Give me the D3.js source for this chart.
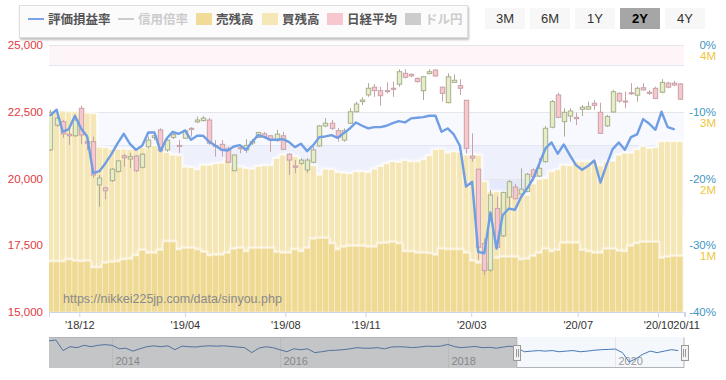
<!DOCTYPE html>
<html><head><meta charset="utf-8">
<script src="https://cdn.jsdelivr.net/npm/d3@7/dist/d3.min.js"></script>
<style>
body{margin:0;background:#fff;font-family:"Liberation Sans",Arial,sans-serif;}
svg{display:block}
</style></head><body>
<svg id="c" width="726" height="380"></svg>
<script>
// ---------- DATA ----------
const weeks = [
"2018-10-29","2018-11-05","2018-11-12","2018-11-19","2018-11-26","2018-12-03","2018-12-10","2018-12-17","2018-12-24","2018-12-31",
"2019-01-07","2019-01-14","2019-01-21","2019-01-28","2019-02-04","2019-02-11","2019-02-18","2019-02-25","2019-03-04","2019-03-11",
"2019-03-18","2019-03-25","2019-04-01","2019-04-08","2019-04-15","2019-04-22","2019-05-06","2019-05-13","2019-05-20","2019-05-27",
"2019-06-03","2019-06-10","2019-06-17","2019-06-24","2019-07-01","2019-07-08","2019-07-15","2019-07-22","2019-07-29","2019-08-05",
"2019-08-12","2019-08-19","2019-08-26","2019-09-02","2019-09-09","2019-09-16","2019-09-23","2019-09-30","2019-10-07","2019-10-14",
"2019-10-21","2019-10-28","2019-11-04","2019-11-11","2019-11-18","2019-11-25","2019-12-02","2019-12-09","2019-12-16","2019-12-23",
"2019-12-30","2020-01-06","2020-01-13","2020-01-20","2020-01-27","2020-02-03","2020-02-10","2020-02-17","2020-02-24","2020-03-02",
"2020-03-09","2020-03-16","2020-03-23","2020-03-30","2020-04-06","2020-04-13","2020-04-20","2020-04-27","2020-05-04","2020-05-11",
"2020-05-18","2020-05-25","2020-06-01","2020-06-08","2020-06-15","2020-06-22","2020-06-29","2020-07-06","2020-07-13","2020-07-20",
"2020-07-27","2020-08-03","2020-08-10","2020-08-17","2020-08-24","2020-08-31","2020-09-07","2020-09-14","2020-09-21","2020-09-28",
"2020-10-05","2020-10-12","2020-10-19","2020-10-26"];

const nikkeiOpen = [21070,22000,22130,21660,21600,22630,21380,21380,19760,19650,
19920,20260,20850,20730,20840,20420,21190,21530,21820,21070,
21540,21240,21510,21880,22120,22170,22190,21240,21280,21130,
20290,21150,21070,21330,21540,21670,21600,21420,21600,20910,
20470,20570,20320,20610,21220,21970,22070,21790,21440,22070,
22500,22880,23130,23420,23290,23290,23380,23530,23940,23900,
23750,23290,23930,24060,23420,22840,23600,23480,22930,20840,
20350,17570,16570,18880,17850,19300,19680,19420,19510,20320,
20090,20630,21920,23130,22130,22340,22290,22590,22600,22820,
22480,21970,22490,23190,22900,23210,23120,23400,23230,23380,
23230,23570,23570,23540];
const nikkeiHigh = [22570,22600,22190,21850,22270,22730,21570,21570,20130,19690,
20390,20690,20920,20960,20880,20940,21570,21670,21880,21510,
21780,21440,21840,21920,22320,22340,22270,21440,21440,21190,
20910,21190,21480,21480,21750,21740,21630,21820,21750,20940,
20690,20760,20770,21190,22000,22260,22190,21890,21880,22630,
22880,23040,23570,23540,23440,23600,23630,24090,24090,23940,
23790,23840,24090,24090,23440,23940,23900,23720,22940,21690,
20350,17760,19570,19320,19500,19940,19800,20380,20210,20380,
20760,21970,22940,23210,22630,22630,22470,22750,22880,22940,
22840,22380,23320,23230,23250,23570,23440,23570,23320,23440,
23720,23630,23660,23570];
const nikkeiLow = [21030,21930,21520,21260,21560,21290,21070,20020,18940,19220,
19870,20220,20440,20390,20240,20380,21130,21440,21000,21000,
21480,20960,21470,21570,22070,22130,21260,20820,20820,20570,
20290,20940,20960,21260,21510,21520,21000,21380,21070,20130,
20200,20510,20210,20570,21190,21920,21820,21380,21380,22040,
22470,22750,23060,23060,22730,23190,23060,23440,23750,23800,
23590,22940,23900,23810,22880,22820,23590,23130,20940,20630,
16950,16390,16510,17390,17810,18940,19220,19380,19500,20020,
20050,20590,21880,22260,21570,22130,22000,22340,22570,22570,
21670,21930,22470,22840,22630,23130,22880,23290,23130,22970,
23190,23380,23470,22940];
const nikkeiClose = [22480,22260,21670,21600,22190,21630,21320,20130,20020,19540,
20350,20660,20780,20820,20290,20910,21440,21600,21040,21440,
21640,21210,21790,21840,22190,22260,21320,21210,21070,20610,
20880,21120,21240,21390,21720,21570,21440,21660,21090,20690,
20420,20690,20690,21070,21970,22070,21880,21540,21790,22500,
22790,22940,23380,23290,23100,23270,23340,24000,23790,23840,
23630,23810,24000,23840,23190,23810,23680,23380,21130,20760,
17420,16550,19380,17420,19480,19880,19240,19600,20160,20070,
20380,21880,22880,22290,22480,22530,22240,22670,22690,22740,
21690,22320,23250,22900,22870,23170,23380,23320,23190,23000,
23600,23420,23500,22970];

// 評価損益率 (%)
const evalRate = [-10.5,-9.7,-13.0,-12.6,-10.6,-12.5,-13.7,-19.2,-18.9,-17.7,
-16.3,-14.7,-13.3,-14.8,-15.7,-15.1,-13.1,-13.1,-15.9,-14.0,
-13.0,-13.3,-12.8,-14.2,-13.6,-13.6,-14.5,-15.1,-15.7,-15.8,
-15.2,-15.0,-15.7,-14.5,-13.5,-13.8,-14.2,-14.2,-14.1,-14.5,
-15.3,-14.8,-15.9,-15.0,-13.8,-13.7,-13.5,-13.9,-13.2,-12.5,
-11.6,-12.1,-12.5,-12.3,-12.3,-12.1,-11.7,-11.4,-11.6,-11.0,
-10.9,-10.8,-10.6,-10.6,-13.0,-12.5,-13.4,-15.1,-21.2,-20.5,
-31.0,-31.2,-25.1,-30.5,-25.5,-24.5,-24.7,-22.8,-21.5,-20.0,
-17.8,-15.5,-14.6,-16.3,-14.9,-16.5,-18.0,-18.7,-18.1,-17.3,
-20.6,-18.0,-15.6,-14.6,-15.7,-13.8,-13.4,-11.1,-11.8,-12.7,
-10.0,-12.3,-12.6,null];

// 売残高 (M)
const sellBalance = [0.75,0.75,0.75,0.78,0.76,0.75,0.76,0.66,0.66,0.73,
0.74,0.75,0.78,0.79,0.84,0.92,0.88,0.88,0.92,1.05,
1.05,0.93,0.95,0.95,0.93,0.89,0.84,0.85,0.85,0.88,
0.94,0.95,0.90,0.95,0.95,0.95,0.95,0.89,0.88,0.88,
0.93,0.90,0.95,1.09,1.10,1.10,1.02,0.93,0.97,0.98,
0.98,0.98,0.97,0.97,1.02,1.03,1.04,1.02,0.90,0.90,
0.88,0.88,0.87,0.85,0.94,0.93,0.93,0.93,0.88,0.76,
0.73,0.73,0.75,0.80,0.82,0.82,0.82,0.78,0.79,0.83,
0.88,0.94,0.90,0.92,1.03,1.03,1.03,0.92,0.90,0.88,
0.88,0.94,0.94,0.91,0.90,0.98,1.02,1.04,1.04,1.04,
0.80,0.82,0.83,0.83];
// 買残高 (M)
const buyBalance = [3.00,3.01,3.01,3.00,3.00,2.98,2.98,2.97,2.47,2.46,
2.44,2.44,2.44,2.43,2.46,2.46,2.46,2.49,2.44,2.39,
2.35,2.34,2.17,2.16,2.13,2.20,2.20,2.22,2.23,2.28,
2.18,2.17,2.15,2.14,2.18,2.19,2.19,2.30,2.35,2.36,
2.33,2.24,2.22,2.19,2.05,2.14,2.13,2.09,2.08,2.07,
2.10,2.10,2.09,2.14,2.18,2.22,2.25,2.24,2.27,2.25,
2.25,2.28,2.34,2.43,2.44,2.38,2.40,2.39,2.35,2.35,
2.35,1.95,1.80,1.80,1.79,1.79,1.75,1.80,1.75,1.92,
1.99,2.00,2.10,2.13,2.20,2.19,2.25,2.25,2.25,2.25,
2.19,2.25,2.26,2.35,2.38,2.38,2.43,2.48,2.45,2.46,
2.55,2.55,2.55,2.55];

// x-axis ticks
const tickDates = ["2018-12-01","2019-04-01","2019-08-01","2019-11-01","2020-03-01","2020-07-01","2020-10-01","2020-11-01"];
const tickLabels = ["'18/12","'19/04","'19/08","'19/11","'20/03","'20/07","'20/10","'20/11"];
const priceTicks = [15000,17500,20000,22500,25000];
const pctTicks = [0,-10,-20,-30,-40];
const volTicks = [4,3,2,1];
// 評価損益率 zones (%)
const zoneRanges = [[-3,0],[-15,-10],[-20,-15],[-25,-20]];

// navigator (monthly 評価損益率 history)
const navMonths = ["2013-04","2013-05","2013-06","2013-07","2013-08","2013-09","2013-10","2013-11","2013-12",
"2014-01","2014-02","2014-03","2014-04","2014-05","2014-06","2014-07","2014-08","2014-09","2014-10","2014-11","2014-12",
"2015-01","2015-02","2015-03","2015-04","2015-05","2015-06","2015-07","2015-08","2015-09","2015-10","2015-11","2015-12",
"2016-01","2016-02","2016-03","2016-04","2016-05","2016-06","2016-07","2016-08","2016-09","2016-10","2016-11","2016-12",
"2017-01","2017-02","2017-03","2017-04","2017-05","2017-06","2017-07","2017-08","2017-09","2017-10","2017-11","2017-12",
"2018-01","2018-02","2018-03","2018-04","2018-05","2018-06","2018-07","2018-08","2018-09","2018-10","2018-11","2018-12",
"2019-01","2019-02","2019-03","2019-04","2019-05","2019-06","2019-07","2019-08","2019-09","2019-10","2019-11","2019-12",
"2020-01","2020-02","2020-03","2020-04","2020-05","2020-06","2020-07","2020-08","2020-09","2020-10"];
const navRate = [2.1,3.5,-13.5,-7.3,-8.8,-5.0,-7.3,-5.0,-4.0,
-5.0,-10.7,-9.7,-14.4,-10.7,-7.3,-5.9,-7.3,-5.9,-12.1,-6.4,-7.3,
-7.8,-6.4,-5.9,-6.4,-5.9,-6.9,-7.8,-8.8,-16.8,-9.7,-7.3,-8.8,
-12.1,-15.4,-10.7,-12.1,-10.7,-16.8,-15.4,-13.5,-13.0,-12.1,-10.7,-8.8,
-9.7,-9.7,-8.8,-10.7,-7.8,-7.3,-7.8,-8.8,-7.8,-6.4,-6.9,-6.4,
-3.6,-7.3,-8.8,-7.8,-6.9,-8.8,-8.3,-9.7,-7.8,-6.4,-9.7,-15.4,
-14.4,-13.5,-14.4,-13.5,-15.4,-14.4,-13.5,-15.4,-14.4,-13.0,-12.1,-11.6,
-11.1,-16.8,-31.9,-26.3,-19.2,-14.4,-16.8,-14.4,-12.1,-13.5];
const navYears = ["2014","2016","2018","2020"];

const legendItems = [
  {name:"評価損益率", type:"line", color:"#7aa3e5", on:true},
  {name:"信用倍率", type:"line", color:"#cccccc", on:false},
  {name:"売残高", type:"box", color:"#f0dc98", on:true},
  {name:"買残高", type:"box", color:"#f6e7b6", on:true},
  {name:"日経平均", type:"box", color:"#f7c6cf", on:true},
  {name:"ドル円", type:"box", color:"#cccccc", on:false}
];
const rangeButtons = ["3M","6M","1Y","2Y","4Y"];
const selectedButton = "2Y";

// ---------- DRAW ----------
const svg = d3.select("#c");
const P = {l:49, r:684, t:45, b:312};
const x = d3.scaleLinear().domain([-0.245, 103.68]).range([P.l, P.r]);
const yP = d3.scaleLinear().domain([15000,25000]).range([P.b,P.t]);
const yR = d3.scaleLinear().domain([-40,0]).range([P.b,P.t]);
const yM = d3.scaleLinear().domain([0,4]).range([P.b,P.t]);
const parse = d3.timeParse("%Y-%m-%d");
const wDates = weeks.map(parse);

const defs = svg.append("defs");
defs.append("clipPath").attr("id","clip").append("rect")
  .attr("x",P.l).attr("y",P.t).attr("width",P.r-P.l).attr("height",P.b-P.t);
const glow = defs.append("filter").attr("id","glow").attr("x","-5%").attr("y","-10%").attr("width","110%").attr("height","120%");
glow.append("feMorphology").attr("operator","dilate").attr("radius",1).attr("in","SourceAlpha").attr("result","d");
glow.append("feGaussianBlur").attr("in","d").attr("stdDeviation",1.2).attr("result","b");
glow.append("feFlood").attr("flood-color","#ffffff").attr("flood-opacity",1);
glow.append("feComposite").attr("in2","b").attr("operator","in").attr("result","g");
const gm = glow.append("feMerge"); gm.append("feMergeNode").attr("in","g"); gm.append("feMergeNode").attr("in","SourceGraphic");
const sh = defs.append("filter").attr("id","shadow").attr("x","-5%").attr("y","-20%").attr("width","110%").attr("height","150%");
sh.append("feDropShadow").attr("dx",1).attr("dy",2).attr("stdDeviation",1.2).attr("flood-color","#000").attr("flood-opacity",0.25);

// zones
const zoneColors = ["#fdf5f7","#f8f9fe","#eef1fc","#e4eafb"];
const gZ = svg.append("g");
zoneRanges.forEach((z,i)=>{
  gZ.append("rect").attr("x",P.l).attr("width",P.r-P.l)
    .attr("y",yR(z[1])).attr("height",yR(z[0])-yR(z[1])).attr("fill",zoneColors[i]);
});
// grid lines
svg.append("g").selectAll("line").data(priceTicks).join("line")
  .attr("x1",P.l).attr("x2",P.r).attr("y1",d=>Math.round(yP(d))+0.5).attr("y2",d=>Math.round(yP(d))+0.5)
  .attr("stroke","#e6e6e6");
svg.append("g").selectAll("line").data([-3,-15]).join("line")
  .attr("x1",P.l).attr("x2",P.r).attr("y1",d=>Math.round(yR(d))+0.5).attr("y2",d=>Math.round(yR(d))+0.5)
  .attr("stroke","#e3e6f5");

const plot = svg.append("g").attr("clip-path","url(#clip)");
const bw = x(1)-x(0);
// buy balance
plot.append("g").attr("filter","url(#glow)").selectAll("rect").data(buyBalance).join("rect")
  .attr("x",(d,i)=>x(i)-bw/2).attr("width",bw)
  .attr("y",d=>yM(d)).attr("height",d=>yM(0)-yM(d))
  .attr("fill","#f5e6b6").attr("stroke","#fffaf0").attr("stroke-width",0.8);
// sell balance
plot.append("g").attr("filter","url(#glow)").selectAll("rect").data(sellBalance).join("rect")
  .attr("x",(d,i)=>x(i)-bw/2).attr("width",bw)
  .attr("y",d=>yM(d)).attr("height",d=>yM(0)-yM(d))
  .attr("fill","#efda94").attr("stroke","#f8eccb").attr("stroke-width",0.8);

// candles
const cw = 4.4;
const gC = plot.append("g");
nikkeiOpen.forEach((o,i)=>{
  const c = nikkeiClose[i], h = nikkeiHigh[i], l = nikkeiLow[i];
  const up = c >= o;
  const stroke = up ? "#a9ae8e" : "#c7a3a8";
  const fill = up ? "#e5edc6" : "#f8c7cd";
  const cx = Math.round(x(i))+0.5;
  gC.append("line").attr("x1",cx).attr("x2",cx).attr("y1",yP(h)).attr("y2",yP(l)).attr("stroke",stroke).attr("stroke-width",1);
  const top = yP(Math.max(o,c)), bot = yP(Math.min(o,c));
  gC.append("rect").attr("x",cx-cw/2).attr("width",cw)
    .attr("y",top).attr("height",Math.max(1,bot-top))
    .attr("fill",fill).attr("stroke",stroke).attr("stroke-width",1);
});

// evaluation rate line
const line = d3.line().defined(d=>d!==null).x((d,i)=>x(i)).y(d=>yR(d));
plot.append("path").datum(evalRate).attr("d",line)
  .attr("fill","none").attr("stroke","#6f9ee4").attr("stroke-width",2.4)
  .attr("stroke-linejoin","round").attr("stroke-linecap","round");

// watermark
svg.append("text").attr("x",63).attr("y",303).text("https://nikkei225jp.com/data/sinyou.php")
  .attr("font-size",12.5).attr("fill","#8a8a8a").attr("font-family","Liberation Sans, Arial, sans-serif");

// x axis
function dateToIdx(ds){
  const d = parse(ds);
  for(let k=0;k<wDates.length-1;k++){
    if(d>=wDates[k] && d<wDates[k+1]) return k + (d-wDates[k])/(wDates[k+1]-wDates[k]);
  }
  const k = wDates.length-1;
  return k + (d-wDates[k])/(7*864e5);
}
const tickIdx = tickDates.map(dateToIdx);
const xAxis = d3.axisBottom(x).tickValues(tickIdx).tickFormat((d,i)=>tickLabels[i]).tickSize(5).tickPadding(4);
const gx = svg.append("g").attr("transform",`translate(0,${P.b})`).call(xAxis);
gx.select(".domain").attr("stroke","#ccd6eb");
gx.selectAll(".tick line").attr("stroke","#ccd6eb");
gx.selectAll(".tick text").attr("fill","#333").attr("font-size",11).attr("font-family","Liberation Sans, Arial, sans-serif");

// left axis
const gl = svg.append("g").attr("transform",`translate(${P.l},0)`)
  .call(d3.axisLeft(yP).tickValues(priceTicks).tickFormat(d3.format(",")).tickSize(0).tickPadding(6));
gl.select(".domain").remove();
gl.selectAll(".tick text").attr("fill","#e2383e").attr("font-size",11.5).attr("font-family","Liberation Sans, Arial, sans-serif");

// right axes
const gr = svg.append("g");
gr.selectAll("text.p").data(pctTicks).join("text").attr("class","p")
  .attr("x",716).attr("y",d=>yR(d)+4).attr("text-anchor","end")
  .attr("fill","#3f97c2").attr("font-size",11.5).text(d=>d+"%");
gr.selectAll("text.m").data(volTicks).join("text").attr("class","m")
  .attr("x",716).attr("y",d=>yM(d)+15).attr("text-anchor","end")
  .attr("fill","#f0c53c").attr("font-size",11.5).text(d=>d+"M");

// legend
const lg = svg.append("g");
lg.append("rect").attr("x",19.5).attr("y",5.5).attr("width",448).attr("height",32)
  .attr("fill","#fbfbfc").attr("stroke","#dddddd").attr("filter","url(#shadow)");
const legendX = [28,118,196,262,327,405];
legendItems.forEach((it,i)=>{
  const lx = legendX[i];
  if(it.type==="line"){
    lg.append("line").attr("x1",lx).attr("x2",lx+16).attr("y1",19).attr("y2",19).attr("stroke",it.color).attr("stroke-width",2);
  } else {
    lg.append("rect").attr("x",lx).attr("y",13).attr("width",16).attr("height",12).attr("fill",it.color);
  }
  lg.append("text").attr("x",lx+20).attr("y",24).text(it.name)
    .attr("font-size",12.5).attr("font-weight","bold").attr("fill",it.on?"#555":"#cccccc")
    .attr("font-family","Noto Sans CJK JP, sans-serif");
});

// range buttons
const bx = [485,530,575,620,665];
rangeButtons.forEach((b,i)=>{
  const sel = b===selectedButton;
  svg.append("rect").attr("x",bx[i]).attr("y",8).attr("width",40).attr("height",21)
    .attr("fill",sel?"#a6a6a6":"#f7f7f7");
  svg.append("text").attr("x",bx[i]+20).attr("y",23).attr("text-anchor","middle").text(b)
    .attr("font-size",13).attr("font-weight",sel?"bold":"normal").attr("fill",sel?"#000":"#333");
});

// navigator
const N = {t:337, b:368};
const navDates = navMonths.map(m=>parse(m+"-01"));
const nx = d3.scaleTime().domain([parse("2013-04-01"), parse("2020-10-26")]).range([P.l,P.r]);
const ny = d3.scaleLinear().domain(d3.extent(navRate)).range([N.b-6, N.t+3]);
const gN = svg.append("g");
gN.append("rect").attr("x",P.l).attr("y",N.t).attr("width",P.r-P.l).attr("height",N.b-N.t).attr("fill","#f4f7fb");
navYears.forEach(yv=>{
  const gxp = Math.round(nx(parse(yv+"-01-01")))+0.5;
  gN.append("line").attr("x1",gxp).attr("x2",gxp).attr("y1",N.t).attr("y2",N.b).attr("stroke","#e6e6e6");
  gN.append("text").attr("x",gxp+3).attr("y",N.b-3).text(yv).attr("font-size",11).attr("fill","#999");
});
gN.append("path").datum(navRate).attr("d",d3.line().x((d,i)=>nx(navDates[i])).y(d=>ny(d)))
  .attr("fill","none").attr("stroke","#4a78b8").attr("stroke-width",1);
const s0 = nx(wDates[0]), s1 = P.r;
gN.append("rect").attr("x",P.l).attr("y",N.t).attr("width",s0-P.l).attr("height",N.b-N.t)
  .attr("fill","rgba(102,102,102,0.35)");
gN.append("path").attr("d",`M${P.l},${N.t+0.5}H${s0}V${N.b-0.5}H${s1}V${N.t+0.5}`)
  .attr("fill","none").attr("stroke","#b3b3b3");
[s0,s1].forEach(hx=>{
  const hgt=15, wd=7, hy=(N.t+N.b)/2-hgt/2;
  gN.append("rect").attr("x",Math.round(hx-wd/2)+0.5).attr("y",Math.round(hy)+0.5).attr("width",wd).attr("height",hgt)
    .attr("fill","#f2f2f2").attr("stroke","#999");
  [-1,1].forEach(o=>gN.append("line").attr("x1",Math.round(hx)+o+0.5).attr("x2",Math.round(hx)+o+0.5)
    .attr("y1",hy+4).attr("y2",hy+hgt-3).attr("stroke","#999"));
});
</script>
</body></html>
